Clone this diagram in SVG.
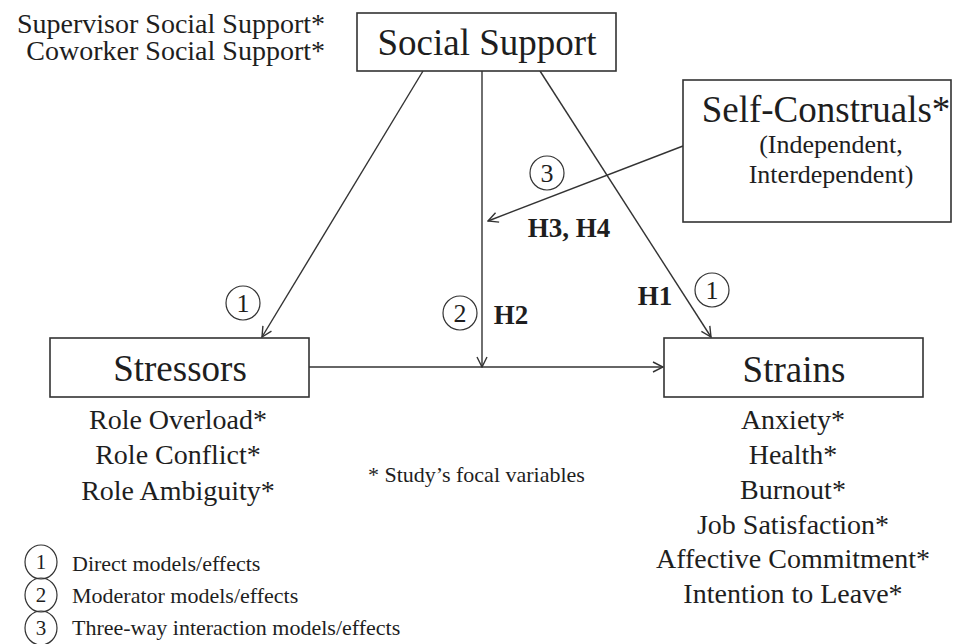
<svg xmlns="http://www.w3.org/2000/svg" width="956" height="644" viewBox="0 0 956 644">
<style>
text{font-family:"Liberation Serif","Times New Roman",serif;fill:#1e1e1e}
.box{fill:#fff;stroke:#333;stroke-width:1.6}
.big{font-size:37px;text-anchor:middle}
.mid{font-size:28px;text-anchor:middle}
.sub{font-size:26px;text-anchor:middle}
.hl{font-size:27px;font-weight:bold;text-anchor:middle}
.cnum{font-size:26px;text-anchor:middle}
.lnum{font-size:21px;text-anchor:middle}
.leg{font-size:22px}
.circ{fill:none;stroke:#333;stroke-width:1.2}
.conn line{stroke:#333;stroke-width:1.4;fill:none}
</style>
<defs>
<marker id="arr" viewBox="0 0 12 12" refX="11" refY="6" markerWidth="12" markerHeight="12" markerUnits="userSpaceOnUse" orient="auto">
<path d="M1,1 L11,6 L1,11" fill="none" stroke="#333" stroke-width="1.4"/>
</marker>
</defs>
<rect width="956" height="644" fill="#fff"/>

<g id="conn" class="conn">
<line x1="423" y1="71" x2="262" y2="337" marker-end="url(#arr)"/>
<line x1="482" y1="71" x2="482" y2="367" marker-end="url(#arr)"/>
<line x1="540" y1="71" x2="711" y2="337" marker-end="url(#arr)"/>
<line x1="309" y1="367" x2="663" y2="367" marker-end="url(#arr)"/>
<line x1="683" y1="146" x2="488" y2="221" marker-end="url(#arr)"/>
</g>

<g id="social-support-sub">
<text x="325" y="33" style="font-size:28px;text-anchor:end">Supervisor Social Support*</text>
<text x="325" y="60" style="font-size:28px;text-anchor:end">Coworker Social Support*</text>
</g>

<g id="social-support">
<rect class="box" x="357" y="13" width="259" height="58"/>
<text class="big" x="487" y="55">Social Support</text>
</g>

<g id="self-construals">
<rect class="box" x="683" y="80" width="268" height="142"/>
<text class="big" x="826" y="122">Self-Construals*</text>
<text class="sub" x="831" y="153">(Independent,</text>
<text class="sub" x="831" y="183">Interdependent)</text>
</g>

<g id="stressors">
<rect class="box" x="50" y="338" width="259" height="59"/>
<text class="big" x="180" y="381">Stressors</text>
<text class="mid" x="178" y="429">Role Overload*</text>
<text class="mid" x="178" y="464">Role Conflict*</text>
<text class="mid" x="178" y="500">Role Ambiguity*</text>
</g>

<g id="strains">
<rect class="box" x="664" y="338" width="259" height="59"/>
<text class="big" x="794" y="382">Strains</text>
<text class="mid" x="793" y="429">Anxiety*</text>
<text class="mid" x="793" y="464">Health*</text>
<text class="mid" x="793" y="499">Burnout*</text>
<text class="mid" x="793" y="534">Job Satisfaction*</text>
<text class="mid" x="793" y="568">Affective Commitment*</text>
<text class="mid" x="793" y="603">Intention to Leave*</text>
</g>

<g id="labels">
<ellipse class="circ" cx="243" cy="303" rx="17" ry="17"/>
<text class="cnum" x="243" y="312">1</text>
<ellipse class="circ" cx="460" cy="313" rx="17" ry="17"/>
<text class="cnum" x="460" y="322">2</text>
<ellipse class="circ" cx="547" cy="173" rx="17" ry="17"/>
<text class="cnum" x="547" y="182">3</text>
<ellipse class="circ" cx="712" cy="290" rx="17" ry="17"/>
<text class="cnum" x="712" y="299">1</text>
<text class="hl" x="569" y="237">H3, H4</text>
<text class="hl" x="511" y="324">H2</text>
<text class="hl" x="655" y="305">H1</text>
</g>

<g id="footnote">
<text x="368" y="482" style="font-size:22px">* Study’s focal variables</text>
</g>

<g id="legend">
<ellipse class="circ" cx="41" cy="562" rx="16" ry="17"/>
<text class="lnum" x="41" y="569">1</text>
<ellipse class="circ" cx="41" cy="595" rx="16" ry="17"/>
<text class="lnum" x="41" y="602">2</text>
<ellipse class="circ" cx="41" cy="628" rx="16" ry="17"/>
<text class="lnum" x="41" y="635">3</text>
<text class="leg" x="72" y="571">Direct models/effects</text>
<text class="leg" x="72" y="603">Moderator models/effects</text>
<text class="leg" x="72" y="635">Three-way interaction models/effects</text>
</g>
</svg>
